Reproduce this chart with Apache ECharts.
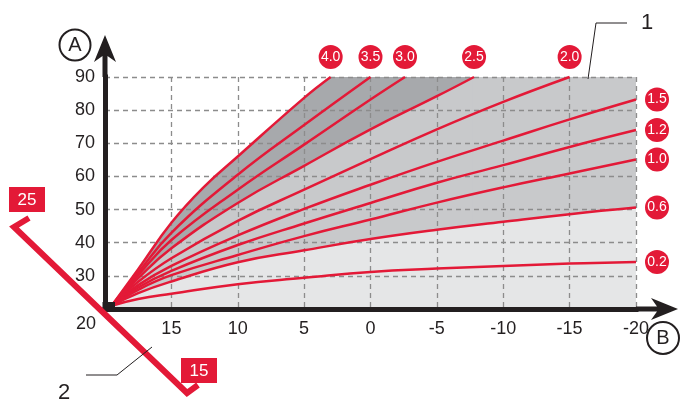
<!DOCTYPE html>
<html><head><meta charset="utf-8">
<script src="https://cdn.jsdelivr.net/npm/echarts@6/dist/echarts.min.js"></script>
<style>html,body{margin:0;padding:0;background:#fff}#c{width:681px;height:403px}</style>
</head><body><div id="c"></div>
<script>
// ---- data ----
const slopeLabels = ['4.0','3.5','3.0','2.5','2.0','1.5','1.2','1.0','0.6','0.2'];
const outdoor40 = [19.5, 17.5, 15, 12.5, 10, 5, 3.0];
const flow40    = [21, 32, 46, 57, 66, 83.7, 90];
const outdoor35 = [19.5, 17.5, 15, 10, 5, 0];
const flow35    = [21, 31, 43, 60.5, 75.5, 90];
const outdoor30 = [19.5, 17.5, 15, 10, 5, 0, -2.6];
const flow30    = [21, 30.2, 40.8, 56, 69.6, 83.2, 90];
const outdoor25 = [19.5, 17.5, 15, 10, 5, 0, -5, -7.8];
const flow25    = [21, 29.3, 38.3, 52, 63.2, 74.2, 84.2, 90];
const outdoor20 = [19.5, 17.5, 15, 10, 5, 0, -5, -10, -15];
const flow20    = [21, 28.2, 35.3, 46.6, 56, 65.2, 74.2, 82.5, 90];
const outdoorFull = [19.5, 17.5, 15, 10, 5, 0, -5, -10, -15, -20];
const flow15    = [21, 27.2, 33, 42.2, 50.2, 57.5, 64.4, 70.8, 77.2, 83.2];
const flow12    = [21, 26.5, 31.5, 39.3, 45.8, 52, 58.1, 63.4, 68.9, 74];
const flow10    = [21, 25.8, 30.2, 36.3, 42, 47, 52.1, 56.7, 60.9, 65.1];
const flow06    = [21, 24.8, 28.3, 34.1, 37.7, 41.1, 43.9, 46.3, 48.6, 50.6];
const flow02    = [21, 23, 24.6, 27.5, 29.4, 31.2, 32.2, 33, 33.7, 34.2];
const xMin = -20, xMax = 20, yMin = 20, yMax = 90;

const RED = '#e31937', DARK = '#a7a9ac', MID = '#c8c9cb', LIGHT = '#e5e6e7', INK = '#231f20';
const FONT = 'Liberation Sans, Arial, sans-serif';
const pairs = (xs, ys) => xs.map((x, i) => [x, ys[i]]);
const curves = [
  [outdoor40, flow40], [outdoor35, flow35], [outdoor30, flow30], [outdoor25, flow25], [outdoor20, flow20],
  [outdoorFull, flow15], [outdoorFull, flow12], [outdoorFull, flow10], [outdoorFull, flow06], [outdoorFull, flow02]
];
const SMOOTH = 0.45;

function areaSeries(data, color, smooth) {
  return { type: 'line', data: data, smooth: smooth, showSymbol: false, symbol: 'none', silent: true, z: 1,
    lineStyle: { width: 0, opacity: 0 }, areaStyle: { color: color, opacity: 1 }, animation: false };
}
const eps = 0.15;
const series = [
  areaSeries(pairs(outdoor40, flow40), DARK, SMOOTH),
  areaSeries([[outdoor40[outdoor40.length - 1] + eps, yMax], [xMin, yMax]], DARK, false),
  areaSeries(pairs(outdoor25, flow25), MID, SMOOTH),
  areaSeries([[outdoor25[outdoor25.length - 1] + eps, yMax], [xMin, yMax]], MID, false),
  areaSeries(pairs(outdoorFull, flow06), LIGHT, SMOOTH)
];
curves.forEach(([xs, ys], i) => {
  const endsTop = ys[ys.length - 1] >= yMax;
  series.push({
    type: 'line', name: slopeLabels[i], data: pairs(xs, ys), smooth: SMOOTH, showSymbol: false, symbol: 'none',
    z: 4, clip: false, animation: false,
    lineStyle: { color: RED, width: 2.5 },
    endLabel: {
      show: true, formatter: slopeLabels[i], distance: 0,
      offset: endsTop ? [0, -20] : [21, 0],
      align: 'center', verticalAlign: 'middle',
      color: '#fff', fontFamily: FONT, fontSize: 14,
      backgroundColor: RED, borderRadius: 12, width: 24, height: 24, lineHeight: 24, padding: 0
    }
  });
});

const arrowPath = 'path://M11,0 L22,27 L13.5,21 L13.5,42 L8.5,42 L8.5,21 L0,27 Z';
const axisLine = { show: true, onZero: false, symbol: ['none', arrowPath], symbolSize: [22, 42], symbolOffset: [0, 21],
  lineStyle: { color: INK, width: 5, cap: 'square' } };
const split = { show: true, lineStyle: { color: '#8c8c8c', width: 1.3, type: [5, 4] } };

const chart = echarts.init(document.getElementById('c'), null, { renderer: 'canvas' });
chart.setOption({
  animation: false,
  backgroundColor: '#fff',
  grid: { left: 105, right: 45, top: 77, bottom: 94, containLabel: false },
  xAxis: { type: 'value', min: xMin, max: xMax, interval: 5, inverse: true, z: 2,
    axisLine: axisLine, axisTick: { show: false }, splitLine: split,
    axisLabel: { color: INK, fontSize: 18, fontFamily: FONT, margin: 11,
      formatter: v => v === xMax ? '' : String(v) } },
  yAxis: { type: 'value', min: yMin, max: yMax, interval: 10, z: 2,
    axisLine: axisLine, axisTick: { show: false }, splitLine: split,
    axisLabel: { color: INK, fontSize: 18, fontFamily: FONT, margin: 10,
      formatter: v => v === yMin ? '' : String(v) } },
  series: series,
  graphic: [
    { type: 'rect', shape: { x: 102.5, y: 302, width: 12.5, height: 9.5 }, style: { fill: INK }, z: 10 },
    { type: 'polyline', shape: { points: [[29, 218], [14, 227], [187, 393], [198, 385]] },
      style: { stroke: RED, lineWidth: 6, fill: null, lineJoin: 'miter' }, z: 10 },
    { type: 'rect', shape: { x: 9, y: 187, width: 36, height: 25 }, style: { fill: RED }, z: 11 },
    { type: 'text', x: 27, y: 200, style: { text: '25', fill: '#fff', font: '17px ' + FONT, align: 'center', verticalAlign: 'middle' }, z: 12 },
    { type: 'rect', shape: { x: 181, y: 358, width: 36, height: 25 }, style: { fill: RED }, z: 11 },
    { type: 'text', x: 199, y: 371, style: { text: '15', fill: '#fff', font: '17px ' + FONT, align: 'center', verticalAlign: 'middle' }, z: 12 },
    { type: 'text', x: 86, y: 324, style: { text: '20', fill: INK, font: '18px ' + FONT, align: 'center', verticalAlign: 'middle' }, z: 12 },
    { type: 'polyline', shape: { points: [[86, 375], [117, 375], [152, 347]] }, style: { stroke: INK, lineWidth: 1, fill: null }, z: 12 },
    { type: 'text', x: 64, y: 393, style: { text: '2', fill: INK, font: '22px ' + FONT, align: 'center', verticalAlign: 'middle' }, z: 12 },
    { type: 'polyline', shape: { points: [[627, 23], [596, 23], [588, 79]] }, style: { stroke: INK, lineWidth: 1, fill: null }, z: 12 },
    { type: 'text', x: 647, y: 23, style: { text: '1', fill: INK, font: '22px ' + FONT, align: 'center', verticalAlign: 'middle' }, z: 12 },
    { type: 'circle', shape: { cx: 75, cy: 45, r: 15.5 }, style: { stroke: INK, lineWidth: 2, fill: '#fff' }, z: 12 },
    { type: 'text', x: 75, y: 45, style: { text: 'A', fill: INK, font: '20px ' + FONT, align: 'center', verticalAlign: 'middle' }, z: 13 },
    { type: 'circle', shape: { cx: 663, cy: 338, r: 16 }, style: { stroke: INK, lineWidth: 2, fill: '#fff' }, z: 12 },
    { type: 'text', x: 663, y: 338, style: { text: 'B', fill: INK, font: '20px ' + FONT, align: 'center', verticalAlign: 'middle' }, z: 13 }
  ]
});
</script></body></html>
